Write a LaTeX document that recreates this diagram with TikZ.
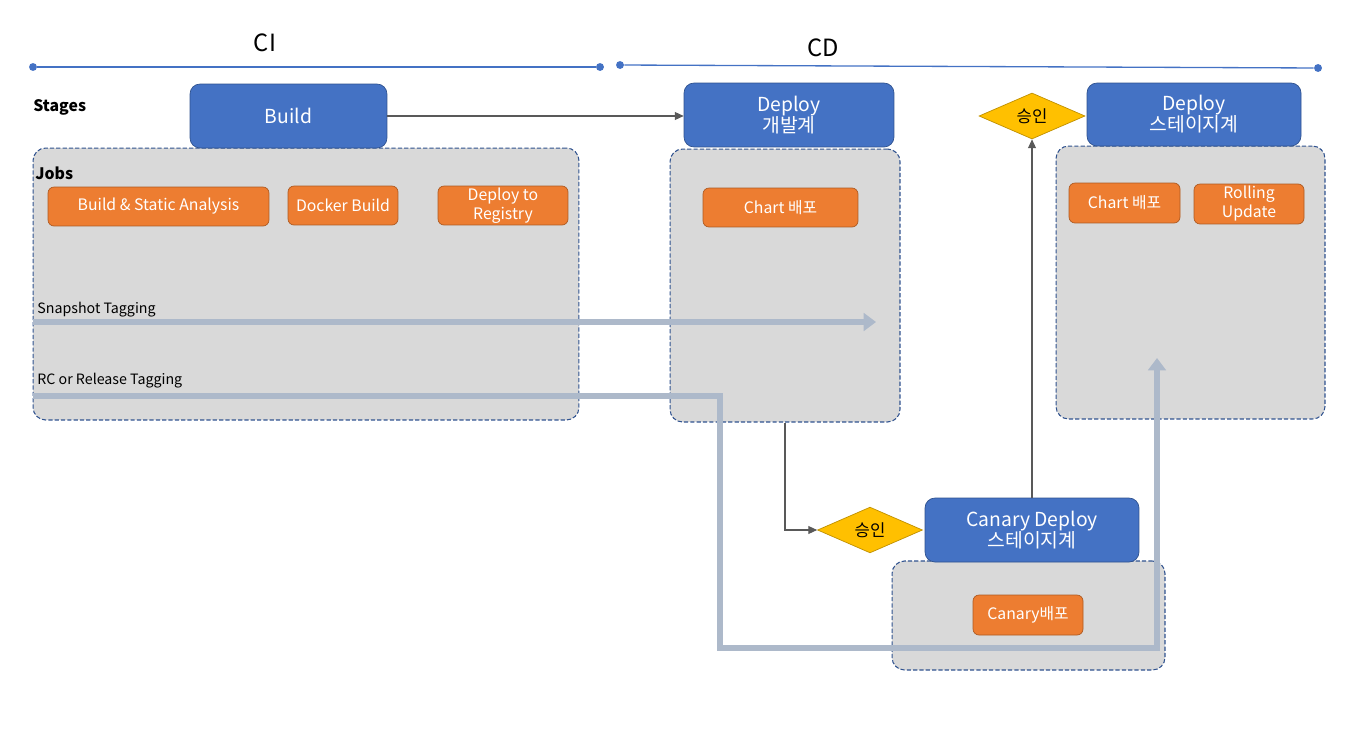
\documentclass[tikz,border=0pt]{standalone}
\usepackage{fontspec}
\setmainfont{Noto Sans CJK KR}
\usetikzlibrary{arrows.meta,shapes.geometric}
\definecolor{stageblue}{HTML}{4472C4}
\definecolor{stageedge}{HTML}{2F528F}
\definecolor{joborange}{HTML}{ED7D31}
\definecolor{jobedge}{HTML}{AE5A21}
\definecolor{areagrey}{HTML}{D9D9D9}
\definecolor{gateyellow}{HTML}{FFC000}
\definecolor{gateedge}{HTML}{BF9000}
\definecolor{tagpath}{HTML}{ADB9CA}
\definecolor{flowgrey}{HTML}{595959}
\begin{document}
\begin{tikzpicture}[x=0.02cm, y=-0.02cm,
  stage/.style={draw=stageedge, fill=stageblue, text=white, rounded corners=0.2cm,
    align=center, font=\fontsize{11}{12}\selectfont, inner sep=0pt},
  jobarea/.style={draw=stageedge, line width=0.6pt, dash pattern=on 2.4pt off 1.2pt,
    fill=areagrey, rounded corners=0.25cm, inner sep=0pt},
  jobbox/.style={draw=jobedge, fill=joborange, text=white, rounded corners=0.12cm,
    align=center, font=\fontsize{9}{10.8}\selectfont, inner sep=0pt,
    minimum height=0.78cm},
  approve/.style={diamond, draw=gateedge, fill=gateyellow, inner sep=0pt,
    font=\fontsize{9.5}{10}\selectfont},
  flow/.style={draw=flowgrey, line width=0.6pt, -{Triangle[length=5pt,width=4.5pt]}},
  tag/.style={draw=tagpath, line width=3.4pt, -{Triangle[length=7pt,width=10pt]}},
  dot/.style={circle, fill=stageblue, inner sep=0pt, minimum size=4.5pt},
  phase/.style={font=\fontsize{13.5}{15}\selectfont},
  caption/.style={font=\bfseries\fontsize{9}{10}\selectfont, anchor=west, inner sep=0pt},
  taglabel/.style={font=\fontsize{8.1}{9}\selectfont, anchor=west, inner sep=0pt}]
  \useasboundingbox (0,0) rectangle (1351,730);

  \node[phase] (ci) at (265,43) {CI};
  \node[phase] (cd) at (823,48) {CD};
  \node[dot] (ciL) at (33,67) {};
  \node[dot] (ciR) at (600,67) {};
  \node[dot] (cdL) at (620,65) {};
  \node[dot] (cdR) at (1318,68) {};
  \draw[stageblue, line width=0.75pt] (ciL) -- (ciR);
  \draw[stageblue, line width=0.75pt] (cdL) -- (cdR);

  \node[caption] (stages) at (33,107) {Stages};

  \node[jobarea, minimum width=10.92cm, minimum height=5.44cm] (ciJobs)  at (306,284) {};
  \node[jobarea, minimum width=4.6cm,   minimum height=5.46cm] (devJobs) at (785,285.5) {};
  \node[jobarea, minimum width=5.38cm,  minimum height=5.46cm] (stgJobs) at (1190.5,282.5) {};
  \node[jobarea, minimum width=5.46cm,  minimum height=2.18cm] (canJobs) at (1028.5,615.5) {};

  \node[stage, minimum width=3.94cm, minimum height=1.28cm] (build)  at (288.5,116) {Build};
  \node[stage, minimum width=4.2cm,  minimum height=1.28cm] (dev)    at (789,115) {Deploy\\개발계};
  \node[stage, minimum width=4.28cm, minimum height=1.26cm] (stg)    at (1194,114.5) {Deploy\\스테이지계};
  \node[stage, minimum width=4.28cm, minimum height=1.28cm] (canary) at (1032,530) {Canary Deploy\\스테이지계};

  \node[caption] (jobs) at (35,173) {Jobs};
  \node[jobbox, minimum width=4.42cm] (analysis) at (158.5,206.5) {Build \& Static Analysis};
  \node[jobbox, minimum width=2.2cm]  (docker)   at (343,205.5) {Docker Build};
  \node[jobbox, minimum width=2.6cm]  (registry) at (503,205.5) {Deploy to\\Registry};
  \node[jobbox, minimum width=3.1cm]  (devChart) at (780.5,207.5) {Chart 배포};
  \node[jobbox, minimum width=2.22cm, minimum height=0.8cm] (stgChart) at (1124.5,203) {Chart 배포};
  \node[jobbox, minimum width=2.2cm,  minimum height=0.8cm] (rolling)  at (1249,204) {Rolling\\Update};
  \node[jobbox, minimum width=2.2cm,  minimum height=0.8cm] (canJob)   at (1028,615) {Canary배포};

  \node[approve, minimum width=2.12cm, minimum height=0.92cm] (gateTop) at (1032,116) {승인};
  \node[approve, minimum width=2.1cm,  minimum height=0.9cm]  (gateBot) at (870,530) {승인};

  \draw[flow] (build.east) -- (build.east -| dev.west);
  \draw[flow] (devJobs.south) |- (gateBot.west);
  \draw[flow] (canary.north) -- (gateTop.south);

  \node[taglabel] (snapLbl) at (37,310) {Snapshot Tagging};
  \node[taglabel] (rcLbl)   at (37,381) {RC or Release Tagging};
  \coordinate (snapStart) at (33,322);
  \coordinate (snapEnd)   at (876,322);
  \coordinate (rcStart)   at (33,396);
  \coordinate (rcEnd)     at (1157,358);
  \draw[tag] (snapStart) -- (snapEnd);
  \draw[tag] (rcStart) -| (720,648) -| (rcEnd);
\end{tikzpicture}
\end{document}
